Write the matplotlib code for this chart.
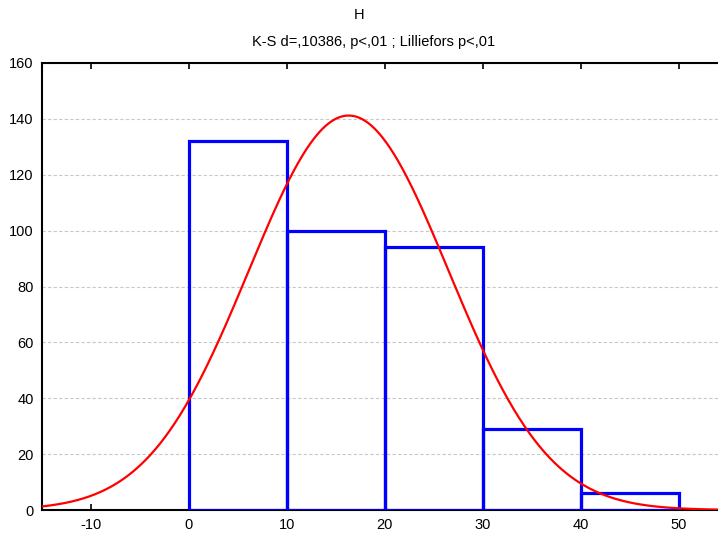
import numpy as np
import matplotlib.pyplot as plt

plt.rcParams['font.family'] = ['Liberation Sans', 'DejaVu Sans']
plt.rcParams['axes.unicode_minus'] = False

# Histogram data (bin lefts, counts)
bin_edges = [0, 10, 20, 30, 40, 50]
counts = [132, 100, 94, 29, 6]

# Fitted normal curve parameters
mu = 16.3
sigma = 10.2
n_total = sum(counts)
bin_width = 10

x_ticks = [-10, 0, 10, 20, 30, 40, 50]
y_ticks = [0, 20, 40, 60, 80, 100, 120, 140, 160]

fig = plt.figure(figsize=(7.18, 5.35), dpi=100)
ax = fig.add_axes([42 / 718, 1 - 510 / 535, 1 - 42 / 718, (510 - 63) / 535])

# Bars
ax.bar(bin_edges[:-1], counts, width=bin_width, align='edge',
       facecolor='none', edgecolor='#0000ff', linewidth=2.3, zorder=3)

# Normal curve
x = np.linspace(-15, 54, 500)
y = n_total * bin_width / (sigma * np.sqrt(2 * np.pi)) * np.exp(-(x - mu) ** 2 / (2 * sigma ** 2))
ax.plot(x, y, color='#ff0000', linewidth=1.6, zorder=4)

ax.set_xlim(-15, 54)
ax.set_ylim(0, 160)
ax.set_xticks(x_ticks)
ax.set_yticks(y_ticks)
ax.yaxis.grid(True, linestyle=(0, (3, 2)), color='#c8c8c8', linewidth=0.8)
ax.set_axisbelow(True)

ax.spines['right'].set_visible(False)
for s in ['left', 'bottom', 'top']:
    ax.spines[s].set_linewidth(1.5)
ax.tick_params(axis='x', direction='in', length=4, width=1.2, top=True,
               labelsize=10.5, pad=6)
ax.tick_params(axis='y', direction='in', length=0, labelsize=10.5, pad=6)

fig.text(0.5, 1 - 15 / 535, 'H', ha='center', va='center', fontsize=10.5)
fig.text(0.52, 1 - 42 / 535, 'K-S d=,10386, p<,01 ; Lilliefors p<,01',
         ha='center', va='center', fontsize=10.5)

fig.savefig('out.png', dpi=100)
